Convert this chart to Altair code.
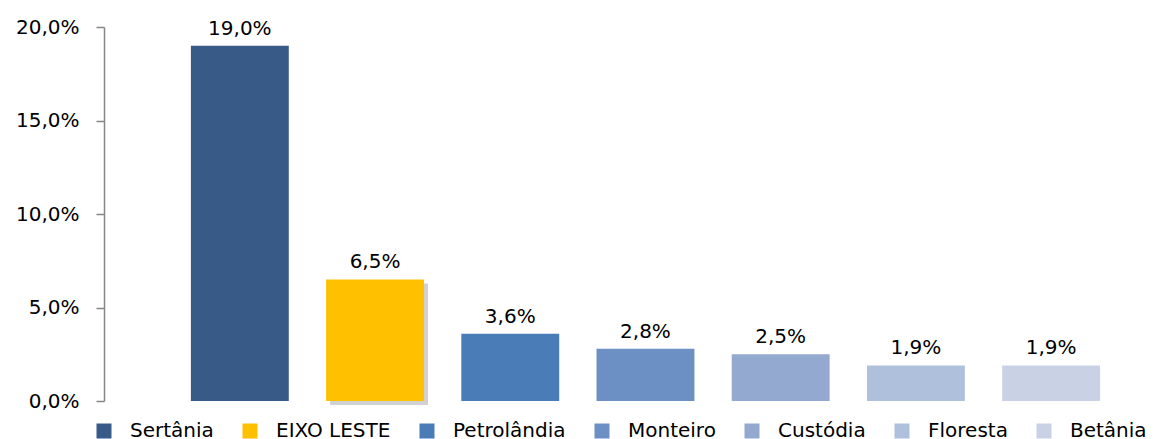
import altair as alt
import pandas as pd

categories = ["Sertânia", "EIXO LESTE", "Petrolândia", "Monteiro", "Custódia", "Floresta", "Betânia"]
values = [19.0, 6.5, 3.6, 2.8, 2.5, 1.9, 1.9]
colors = ["#375A86", "#FFC000", "#4A7DB8", "#6C90C4", "#93A9D0", "#AFC0DC", "#C9D2E5"]
y_ticks = [0, 5, 10, 15, 20]

df = pd.DataFrame({"cat": categories, "v": values})

FONT = "DejaVu Sans"

x = alt.X("cat:N", sort=categories, axis=None,
          scale=alt.Scale(paddingInner=0.276, paddingOuter=0.506, align=0.635))
y = alt.Y("v:Q", scale=alt.Scale(domain=[0, 20], nice=False),
          axis=alt.Axis(values=y_ticks, title=None, grid=False,
                        labelExpr="replace(format(datum.value/100, '.1%'), '.', ',')",
                        labelFont=FONT, labelFontSize=20, labelColor="#000000",
                        labelPadding=17, tickSize=8, tickColor="#868686",
                        domainColor="#868686", domainWidth=1.5, tickWidth=1.5))

base = alt.Chart(df)

shadow = base.transform_filter(alt.datum.cat == "EIXO LESTE").mark_bar(
    color="#9a9a9a", opacity=0.45, xOffset=4, x2Offset=4, yOffset=4
).encode(x=x, y=y)

bars = base.mark_bar().encode(
    x=x, y=y,
    color=alt.Color("cat:N", sort=categories,
                    scale=alt.Scale(domain=categories, range=colors),
                    legend=alt.Legend(title=None, orient="none", direction="horizontal",
                                      legendX=-10, legendY=394, symbolType="square",
                                      symbolSize=225, symbolStrokeWidth=0, symbolOpacity=1,
                                      labelFont=FONT, labelFontSize=20, labelColor="#000000",
                                      labelOffset=16, columnPadding=26, columns=7,
                                      labelLimit=300, padding=0))
)

labels = base.transform_calculate(
    lab="replace(format(datum.v/100, '.1%'), '.', ',')"
).mark_text(baseline="bottom", dy=-7, font=FONT, fontSize=20, color="#000000").encode(
    x=x, y=y, text="lab:N"
)

chart = alt.layer(shadow, bars, labels).properties(
    width=1046, height=374,
    padding={"left": 96, "top": 19, "right": 0, "bottom": 38},
    autosize=alt.AutoSizeParams(type="none"),
).configure_view(stroke=None)

chart.save("out.html", embed_options={"renderer": "svg", "actions": False})
